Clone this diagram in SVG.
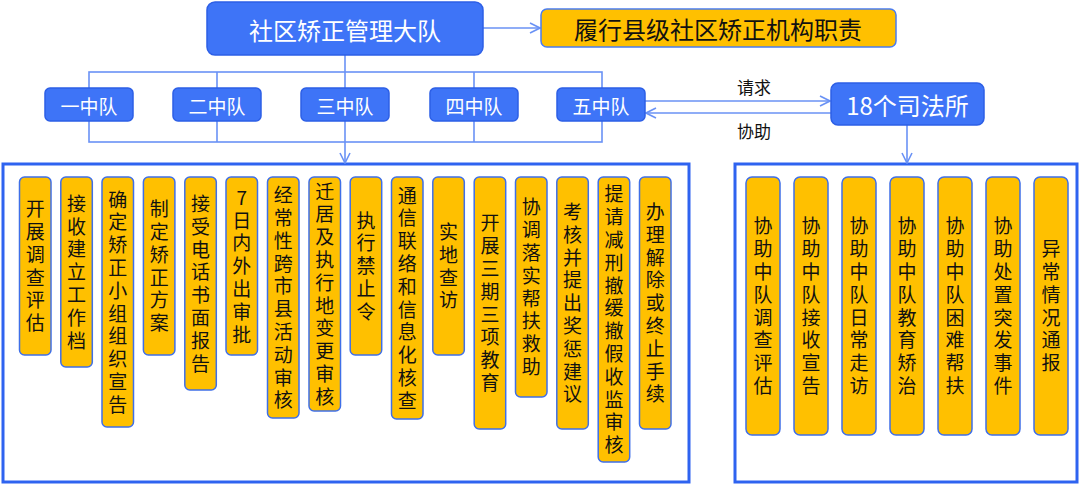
<svg xmlns="http://www.w3.org/2000/svg" width="1080" height="485" viewBox="0 0 1080 485">
<style>
text{font-family:"Noto Sans CJK SC","Noto Sans",sans-serif}
.blue{fill:#3e74f7;stroke:#2d5fe6;stroke-width:1.5}
.org{fill:#ffc000;stroke:#3f6fe8;stroke-width:1.5}
.big{fill:#fff;stroke:#2e63f0;stroke-width:3}
.conn{fill:none;stroke:#6a92f5;stroke-width:1.6}
.wt{fill:#fff;text-anchor:middle;dominant-baseline:central}
.bt{fill:#111;text-anchor:middle;dominant-baseline:central}
.col{fill:#111;text-anchor:middle;font-size:19px;writing-mode:vertical-rl;text-orientation:upright;letter-spacing:3.8px}
</style>
<defs>
<marker id="arr" viewBox="0 0 12 12" refX="11" refY="6" markerWidth="12" markerHeight="12" orient="auto" markerUnits="userSpaceOnUse">
<path d="M1,1 L11,6 L1,11" fill="none" stroke="#6a92f5" stroke-width="1.6"/>
</marker>
</defs>
<rect width="1080" height="485" fill="#fff"/>
<g id="boxes">
<rect class="big" x="3" y="164" width="686" height="318"/>
<rect class="big" x="735" y="164" width="342" height="318"/>
</g>
<g id="connectors">
<line class="conn" x1="483" y1="28" x2="540" y2="28" marker-end="url(#arr)"/>
<line class="conn" x1="345" y1="55" x2="345" y2="163" marker-end="url(#arr)"/>
<rect class="conn" x="89" y="72" width="513" height="70"/>
<line class="conn" x1="217" y1="72" x2="217" y2="142"/>
<line class="conn" x1="474" y1="72" x2="474" y2="142"/>
<line class="conn" x1="645" y1="101" x2="830" y2="101" marker-end="url(#arr)"/>
<line class="conn" x1="831" y1="113" x2="646" y2="113" marker-end="url(#arr)"/>
<line class="conn" x1="907" y1="125" x2="907" y2="163" marker-end="url(#arr)"/>
<text class="bt" x="754" y="86" font-size="17">请求</text>
<text class="bt" x="754" y="130" font-size="17">协助</text>
</g>
<g id="main"><rect class="blue" x="207" y="2" width="276" height="53" rx="8"/><text class="wt" x="345" y="29" font-size="24">社区矫正管理大队</text></g>
<g id="duty"><rect x="541" y="9" width="355" height="38" rx="6" fill="#ffc000" stroke="#4a7cf0" stroke-width="1.5"/><text class="bt" x="718" y="28.5" font-size="24">履行县级社区矫正机构职责</text></g>
<g id="sq1"><rect class="blue" x="45" y="88" width="88" height="33" rx="5"/><text class="wt" x="89" y="105" font-size="19">一中队</text></g>
<g id="sq2"><rect class="blue" x="173" y="88" width="88" height="33" rx="5"/><text class="wt" x="217" y="105" font-size="19">二中队</text></g>
<g id="sq3"><rect class="blue" x="301" y="88" width="88" height="33" rx="5"/><text class="wt" x="345" y="105" font-size="19">三中队</text></g>
<g id="sq4"><rect class="blue" x="430" y="88" width="88" height="33" rx="5"/><text class="wt" x="474" y="105" font-size="19">四中队</text></g>
<g id="sq5"><rect class="blue" x="557" y="88" width="88" height="33" rx="5"/><text class="wt" x="601" y="105" font-size="19">五中队</text></g>
<g id="sfs"><rect class="blue" x="831" y="83" width="153" height="42" rx="7"/><text class="wt" x="907.5" y="104.5" font-size="24">18个司法所</text></g>

<g id="c1"><rect class="org" x="19.5" y="177" width="31.5" height="178" rx="5"/><text class="col" x="35.25" y="267.9">开展调查评估</text></g>
<g id="c2"><rect class="org" x="60.8" y="177" width="31.5" height="190" rx="5"/><text class="col" x="76.55" y="273.9">接收建立工作档</text></g>
<g id="c3"><rect class="org" x="102" y="177" width="31.5" height="250" rx="5"/><text class="col" x="117.75" y="303.9">确定矫正小组组织宣告</text></g>
<g id="c4"><rect class="org" x="143.4" y="177" width="31.5" height="178" rx="5"/><text class="col" x="159.15" y="267.9">制定矫正方案</text></g>
<g id="c5"><rect class="org" x="184.8" y="177" width="31.5" height="213" rx="5"/><text class="col" x="200.55" y="285.4">接受电话书面报告</text></g>
<g id="c6"><rect class="org" x="226" y="177" width="31.5" height="178" rx="5"/><text class="col" x="241.75" y="267.9">7日内外出审批</text></g>
<g id="c7"><rect class="org" x="267.5" y="177" width="31.5" height="241" rx="5"/><text class="col" x="283.25" y="299.4">经常性跨市县活动审核</text></g>
<g id="c8"><rect class="org" x="309" y="177" width="31.5" height="234" rx="5"/><text class="col" x="324.75" y="295.9">迁居及执行地变更审核</text></g>
<g id="c9"><rect class="org" x="350.2" y="177" width="31.5" height="178" rx="5"/><text class="col" x="365.95" y="267.9">执行禁止令</text></g>
<g id="c10"><rect class="org" x="391.5" y="177" width="31.5" height="242" rx="5"/><text class="col" x="407.25" y="299.9">通信联络和信息化核查</text></g>
<g id="c11"><rect class="org" x="432.8" y="177" width="31.5" height="178" rx="5"/><text class="col" x="448.55" y="267.9">实地查访</text></g>
<g id="c12"><rect class="org" x="474.2" y="177" width="31.5" height="252" rx="5"/><text class="col" x="489.95" y="304.9">开展三期三项教育</text></g>
<g id="c13"><rect class="org" x="515.5" y="177" width="31.5" height="220" rx="5"/><text class="col" x="531.25" y="288.9">协调落实帮扶救助</text></g>
<g id="c14"><rect class="org" x="556.8" y="177" width="31.5" height="252" rx="5"/><text class="col" x="572.55" y="304.9">考核并提出奖惩建议</text></g>
<g id="c15"><rect class="org" x="598.2" y="177" width="31.5" height="285" rx="5"/><text class="col" x="613.95" y="321.4">提请减刑撤缓撤假收监审核</text></g>
<g id="c16"><rect class="org" x="639.5" y="177" width="31.5" height="252" rx="5"/><text class="col" x="655.25" y="304.9">办理解除或终止手续</text></g>

<g id="r1"><rect class="org" x="746" y="177" width="34" height="258" rx="6"/><text class="col" x="763" y="307.9">协助中队调查评估</text></g>
<g id="r2"><rect class="org" x="794" y="177" width="34" height="258" rx="6"/><text class="col" x="811" y="307.9">协助中队接收宣告</text></g>
<g id="r3"><rect class="org" x="842" y="177" width="34" height="258" rx="6"/><text class="col" x="859" y="307.9">协助中队日常走访</text></g>
<g id="r4"><rect class="org" x="890" y="177" width="34" height="258" rx="6"/><text class="col" x="907" y="307.9">协助中队教育矫治</text></g>
<g id="r5"><rect class="org" x="938" y="177" width="34" height="258" rx="6"/><text class="col" x="955" y="307.9">协助中队困难帮扶</text></g>
<g id="r6"><rect class="org" x="986" y="177" width="34" height="258" rx="6"/><text class="col" x="1003" y="307.9">协助处置突发事件</text></g>
<g id="r7"><rect class="org" x="1034" y="177" width="34" height="258" rx="6"/><text class="col" x="1051" y="307.9">异常情况通报</text></g>
</svg>
